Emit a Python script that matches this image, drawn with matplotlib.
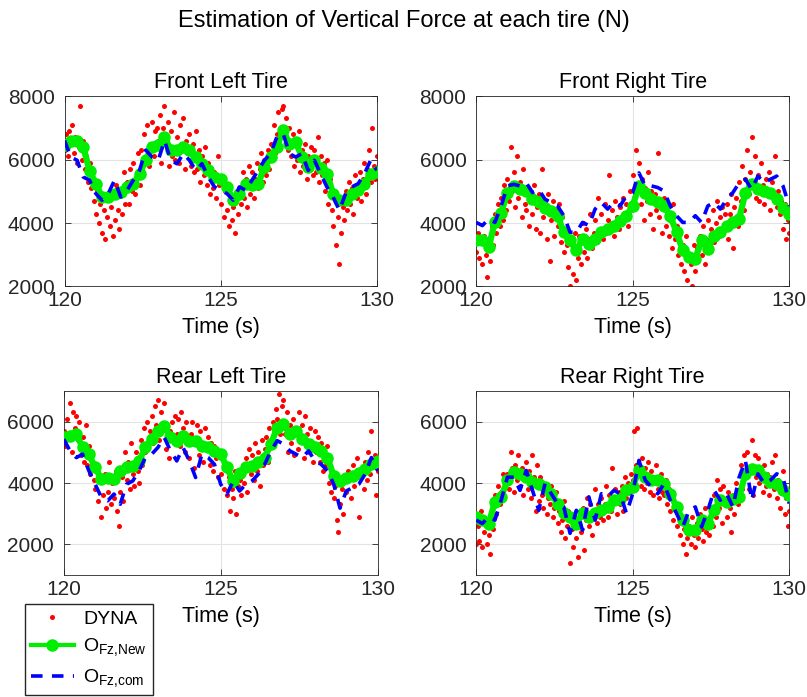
import numpy as np
import matplotlib.pyplot as plt

plt.rcParams['font.family'] = ['Liberation Sans', 'DejaVu Sans']
plt.rcParams['mathtext.fontset'] = 'custom'
plt.rcParams['mathtext.rm'] = 'Liberation Sans'

# Titulos de cada subgrafico
titulos = ['Front Left Tire', 'Front Right Tire', 'Rear Left Tire', 'Rear Right Tire']

# Datos DYNA (muestras cada 0.05 s entre 120 y 130 s)
fl_dyna = [6300, 6800, 6100, 6900, 6500, 7100, 6200, 6700, 5900, 6400, 7700, 6000, 6600, 5700, 6100, 5300, 5900, 5100, 5600, 4700,
           4300, 5000, 4000, 4600, 3700, 4400, 3500, 4200, 4800, 3900, 4500, 3600, 4100, 5200, 4400, 3800, 4900, 4300, 5600, 4600,
           5300, 4600, 5700, 5000, 5900, 4900, 5400, 6200, 5200, 6300, 5600, 6800, 6000, 7100, 5800, 6500, 7200, 6100, 6900, 7000,
           6600, 7400, 5900, 7000, 7700, 6500, 7200, 5800, 6900, 6100, 7500, 6000, 6700, 5900, 7100, 6400, 7300, 5700, 6600, 6200,
           6800, 5800, 6500, 5600, 6900, 5700, 6300, 5300, 6100, 5500, 6400, 5200, 5900, 4900, 5700, 5100, 5600, 4800, 6100, 5200,
           4600, 5300, 4200, 5000, 4400, 3900, 4700, 4100, 4500, 3700, 4900, 4300, 5100, 4600, 5600, 4800, 5400, 4500, 5800, 4900,
           5600, 4800, 5400, 5900, 5100, 5700, 6200, 5300, 6000, 5500, 6300, 5700, 6500, 6000, 7100, 6200, 6800, 7500, 6400, 7600,
           7700, 6700, 7300, 6300, 7000, 6100, 6800, 5800, 6600, 6000, 6900, 5600, 6300, 5800, 6500, 5400, 6100, 5700, 6400, 5500,
           6300, 5600, 6700, 5300, 6100, 5500, 5900, 5000, 6000, 4600, 5400, 4400, 3900, 4800, 3300, 4200, 2700, 3700, 4500, 4100,
           5000, 4400, 5300, 4600, 5100, 4300, 5500, 4800, 5200, 5600, 4700, 5400, 5900, 4900, 5700, 6300, 5300, 7000, 5800, 5400, 6100]
fr_dyna = [3100, 3700, 2900, 3400, 2700, 3600, 3000, 2300, 3500, 2800, 3900, 3300, 4300, 3700, 4600, 3900, 4800, 4100, 5200, 4400,
           5400, 4700, 6400, 5000, 5600, 4500, 6100, 4800, 5300, 4200, 5700, 4600, 4400, 5100, 3900, 4700, 4300, 5200, 3800, 4500,
           4900, 3700, 5700, 4200, 4600, 3500, 4900, 2800, 4100, 4700, 3600, 4400, 3900, 4600, 3400, 4200, 3100, 3800, 3300, 2600,
           2000, 3300, 2400, 3700, 2200, 2900, 3600, 2700, 4000, 3100, 3800, 2900, 3500, 4300, 3200, 3700, 4100, 3400, 4800, 3600,
           4300, 3500, 4600, 3700, 4100, 5500, 3900, 4400, 3600, 4700, 4200, 3800, 4500, 4000, 4800, 4300, 4600, 3900, 5000, 4400,
           5500, 4800, 6300, 5200, 5900, 4600, 5400, 4100, 5100, 4700, 5600, 4300, 5000, 3800, 4900, 4400, 6200, 4200, 4600, 3700,
           4800, 3900, 4400, 3600, 4100, 3200, 4600, 3500, 3900, 3000, 3700, 2700, 3300, 2500, 3600, 2200, 3000, 2700, 2000, 3300,
           2500, 3200, 2800, 3600, 3000, 3900, 2700, 3500, 4100, 3300, 3800, 4400, 3400, 4000, 4700, 3600, 4200, 4500, 3800, 4300,
           4600, 3500, 4300, 4900, 3200, 4500, 4800, 3900, 5300, 4700, 5800, 4400, 5400, 6300, 4900, 5600, 6700, 5300, 6100, 4800,
           5500, 4700, 5900, 5200, 4600, 5400, 4900, 5600, 4400, 5300, 4800, 6100, 4500, 5000, 4300, 4700, 3800, 4600, 3500, 4100, 3700]
rl_dyna = [5700, 5200, 6100, 5500, 6600, 5000, 6300, 5800, 6200, 5400, 6000, 4900, 5500, 4700, 5900, 4600, 5200, 4300, 5000, 4100,
           3800, 4500, 3400, 4100, 2900, 3600, 4300, 3200, 3700, 4700, 3300, 4000, 3500, 4400, 3100, 2600, 3700, 4200, 3400, 5000,
           4100, 4700, 3800, 5300, 4300, 3900, 5000, 4400, 4000, 5400, 4600, 5800, 5000, 6000, 5400, 5700, 6200, 5300, 6500, 5900,
           6700, 5400, 6300, 5800, 6600, 5100, 5900, 4800, 5700, 6000, 5300, 6200, 5600, 6100, 5200, 6300, 5800, 5000, 6000, 5500,
           4800, 5600, 6000, 4500, 5400, 5900, 4900, 5700, 5300, 4700, 5800, 5100, 5500, 4600, 5300, 4400, 5200, 4800, 4200, 5000,
           4300, 4900, 3800, 4500, 3600, 4200, 3100, 3800, 3500, 4400, 3000, 3900, 4100, 3600, 4600, 4000, 4800, 3700, 5100, 4300,
           4900, 4100, 5300, 4400, 5000, 3900, 5400, 4600, 5100, 5500, 4700, 5800, 5300, 6000, 5200, 6400, 6100, 6900, 5600, 6500,
           6700, 5600, 6300, 5000, 5900, 5300, 6100, 4900, 5700, 5100, 6300, 5400, 5900, 4800, 6200, 5600, 5000, 5800, 5300, 4700,
           5700, 5000, 5500, 4700, 5300, 4400, 5100, 4600, 5200, 4000, 3700, 4300, 3500, 3900, 2800, 2400, 3300, 3800, 3000, 4200,
           3700, 4400, 4100, 3500, 4600, 3900, 4300, 4800, 2900, 4200, 4500, 3800, 4700, 4100, 5000, 4300, 5700, 4600, 4900, 3600, 4400]
rr_dyna = [2000, 2600, 2100, 3100, 1900, 2400, 2700, 2000, 2300, 1700, 2900, 2500, 3600, 3000, 3900, 3300, 3700, 4300, 3500, 4100,
           4300, 3800, 5000, 4500, 3700, 4600, 4100, 4900, 3900, 4500, 3600, 4300, 4700, 3800, 4400, 3500, 4900, 4200, 3100, 4600,
           3400, 4200, 3600, 3200, 3900, 3000, 3500, 3300, 3900, 2900, 3200, 3700, 2700, 3100, 2400, 2800, 3400, 2200, 2600, 3100,
           1400, 2500, 1900, 2900, 2200, 1600, 2700, 2400, 3200, 1800, 2800, 3500, 2600, 3300, 2300, 3000, 3800, 2700, 3300, 2900,
           3500, 2800, 3300, 3900, 2900, 3600, 3100, 4500, 3400, 3800, 3000, 3700, 3300, 3900, 3100, 4200, 3500, 4000, 3700, 4300,
           4100, 5700, 4600, 5800, 4300, 3900, 4800, 3800, 4500, 4000, 4700, 3700, 4400, 3600, 4200, 4600, 3800, 3500, 4300, 3700,
           3600, 4100, 3300, 3800, 3100, 3500, 2800, 3300, 2600, 3000, 2300, 2800, 2000, 2500, 1700, 2200, 2600, 2000, 2900, 2300,
           1900, 2700, 2200, 3000, 2500, 2100, 3200, 2400, 2800, 2300, 3100, 2600, 3600, 2900, 4100, 3200, 3800, 2700, 3900, 3300,
           2900, 3700, 3200, 2400, 3600, 3000, 4000, 3300, 3700, 4600, 3800, 4900, 4200, 5000, 3800, 4500, 5400, 3600, 4900, 4200,
           4800, 4000, 4400, 3700, 4600, 3900, 4300, 3600, 4200, 4700, 3800, 4900, 3500, 4100, 3200, 3800, 4400, 3000, 3500, 2600, 3100]

# Estimacion nueva O_Fz,New (cada 0.2 s)
fl_new = [6450, 6600, 6600, 6400, 5650, 5240, 4820, 4820, 4930, 4980, 5140, 5240, 5550, 5980, 6400, 6450, 6720, 6300, 6300, 6400,
          6300, 6080, 5870, 5660, 5450, 5400, 5140, 4720, 4930, 5240, 5190, 5240, 5770, 6080, 6400, 6930, 6500, 6560, 6080, 5770,
          5980, 5720, 5550, 4930, 4720, 4720, 4930, 5030, 5240, 5550, 5610]
fr_new = [3450, 3450, 3240, 4020, 4330, 4960, 5170, 5060, 5010, 4750, 4650, 4490, 4390, 4230, 3710, 3450, 3140, 3500, 3340, 3500,
          3710, 3810, 3920, 4070, 4230, 4540, 5170, 4960, 4750, 4650, 4540, 4230, 3710, 3140, 2930, 2880, 3450, 3190, 3600, 3710,
          3920, 4020, 4130, 4960, 5220, 5060, 5010, 4960, 4750, 4490, 4280]
rl_new = [5490, 5540, 5600, 5160, 4940, 4510, 4130, 4180, 4130, 4400, 4510, 4560, 4720, 5160, 5430, 5710, 5870, 5490, 5380, 5540,
          5380, 5380, 5220, 5160, 5050, 4940, 4510, 4050, 4340, 4510, 4560, 4670, 4830, 5270, 5810, 5920, 5600, 5710, 5430, 5270,
          5160, 5050, 4830, 4230, 4070, 4180, 4230, 4340, 4450, 4620, 4720]
rr_new = [2900, 2790, 2680, 3380, 3550, 4090, 4360, 4300, 4190, 4030, 3980, 3870, 3650, 3330, 3010, 2900, 2680, 3010, 2900, 3010,
          3110, 3220, 3440, 3490, 3760, 3870, 4410, 4190, 4090, 4090, 3980, 3650, 3220, 2790, 2460, 2460, 2790, 2680, 3110, 3440,
          3380, 3490, 3550, 4300, 4460, 4410, 4190, 4030, 3980, 3760, 3600]

# Estimacion comparada O_Fz,com (cada 0.2 s)
fl_com = [6600, 6080, 5980, 5450, 5350, 4930, 4720, 4930, 5350, 4820, 5030, 5350, 5660, 6300, 6080, 5980, 6600, 5980, 5870, 6190,
          5980, 5660, 5870, 5450, 5140, 5030, 4930, 4720, 5140, 5030, 5350, 5660, 5980, 6190, 6720, 6820, 6190, 6080, 6190, 5660,
          5980, 5550, 5140, 4820, 4400, 4930, 5140, 5240, 5550, 5980, 5660]
fr_com = [4020, 3920, 4130, 4020, 4540, 5170, 5220, 5170, 5270, 4960, 5060, 4750, 4650, 4540, 4230, 3710, 3710, 4020, 3920, 4440,
          4650, 4440, 4650, 4540, 4860, 4960, 5580, 5170, 5170, 5120, 5010, 4540, 4230, 4020, 4020, 4230, 4020, 4540, 4650, 4440,
          4750, 4960, 5270, 5380, 5060, 5480, 5270, 5380, 5480, 5170, 4540]
rl_com = [5430, 5050, 4830, 4940, 4400, 3960, 3530, 3420, 3640, 3310, 3960, 4070, 4400, 4830, 4940, 5160, 5490, 5050, 4720, 5160,
          4720, 4180, 4940, 4830, 4610, 3960, 3640, 4070, 3740, 3960, 4070, 4290, 4610, 5050, 5380, 5270, 5050, 4940, 4830, 5050,
          4720, 4610, 4400, 3960, 3180, 3740, 3850, 3960, 4290, 4830, 4400]
rr_com = [2790, 2680, 2900, 2790, 3440, 4190, 4190, 3760, 4410, 3760, 3110, 3980, 3650, 3330, 3220, 2360, 3110, 2460, 3550, 2790,
          3650, 3550, 3760, 3650, 3010, 3650, 4740, 4090, 3870, 3650, 3980, 3440, 3010, 2570, 3110, 3220, 2570, 3110, 3760, 3440,
          3650, 3220, 4190, 4740, 3440, 4300, 3980, 4090, 4300, 4190, 3330]

dynas = [fl_dyna, fr_dyna, rl_dyna, rr_dyna]
nuevas = [fl_new, fr_new, rl_new, rr_new]
comparadas = [fl_com, fr_com, rl_com, rr_com]
limites_y = [(2000, 8000), (2000, 8000), (1000, 7000), (1000, 7000)]
ticks_y = [[2000, 4000, 6000, 8000], [2000, 4000, 6000, 8000], [2000, 4000, 6000], [2000, 4000, 6000]]

# Posiciones de los ejes [izq, abajo, ancho, alto]
posiciones = [[0.080, 0.589, 0.387, 0.273], [0.590, 0.589, 0.388, 0.273],
              [0.079, 0.175, 0.389, 0.264], [0.590, 0.175, 0.388, 0.264]]

fig = plt.figure(figsize=(8.07, 6.97), dpi=100)
fig.suptitle('Estimation of Vertical Force at each tire (N)', fontsize=17, y=0.985)

for i in range(4):
    ax = fig.add_axes(posiciones[i])
    t_dyna = np.linspace(120, 130, len(dynas[i]))
    t_new = np.linspace(120, 130, len(nuevas[i]))
    t_com = np.linspace(120, 130, len(comparadas[i]))
    h1, = ax.plot(t_dyna, dynas[i], 'o', color='red', markersize=3.6, markeredgewidth=0, zorder=2)
    h2, = ax.plot(t_new, nuevas[i], '-o', color='#00ee00', linewidth=4.5, markersize=8, zorder=3)
    h3, = ax.plot(t_com, comparadas[i], '--', color='#0000ff', linewidth=2.6, dashes=(3.2, 2.6), zorder=4)
    ax.set_xlim(120, 130)
    ax.set_ylim(*limites_y[i])
    ax.set_xticks([120, 125, 130])
    ax.set_yticks(ticks_y[i])
    ax.grid(True, color='#e3e3e3', linewidth=0.8, zorder=0)
    ax.set_axisbelow(True)
    ax.tick_params(direction='in', labelsize=15, length=4, width=0.6, colors='#262626',
                   top=True, right=True)
    ax.tick_params(axis='y', pad=7)
    for s in ax.spines.values():
        s.set_color('#262626')
        s.set_linewidth(0.6)
    ax.set_title(titulos[i], fontsize=15.5, pad=6)
    ax.set_xlabel('Time (s)', fontsize=15.5, labelpad=5)

leg = fig.legend([h1, h2, h3], ['DYNA', r'O$_{\mathrm{Fz{,}New}}$', r'O$_{\mathrm{Fz{,}com}}$'],
                 loc='upper left', bbox_to_anchor=(0.031, 0.133), borderaxespad=0, fontsize=14,
                 frameon=True, fancybox=False, edgecolor='#262626', framealpha=1, handlelength=2.2,
                 labelspacing=0.45, borderpad=0.3, handletextpad=0.5)
leg.legend_handles[1].set_linewidth(3)

plt.savefig('out.png', dpi=100)
